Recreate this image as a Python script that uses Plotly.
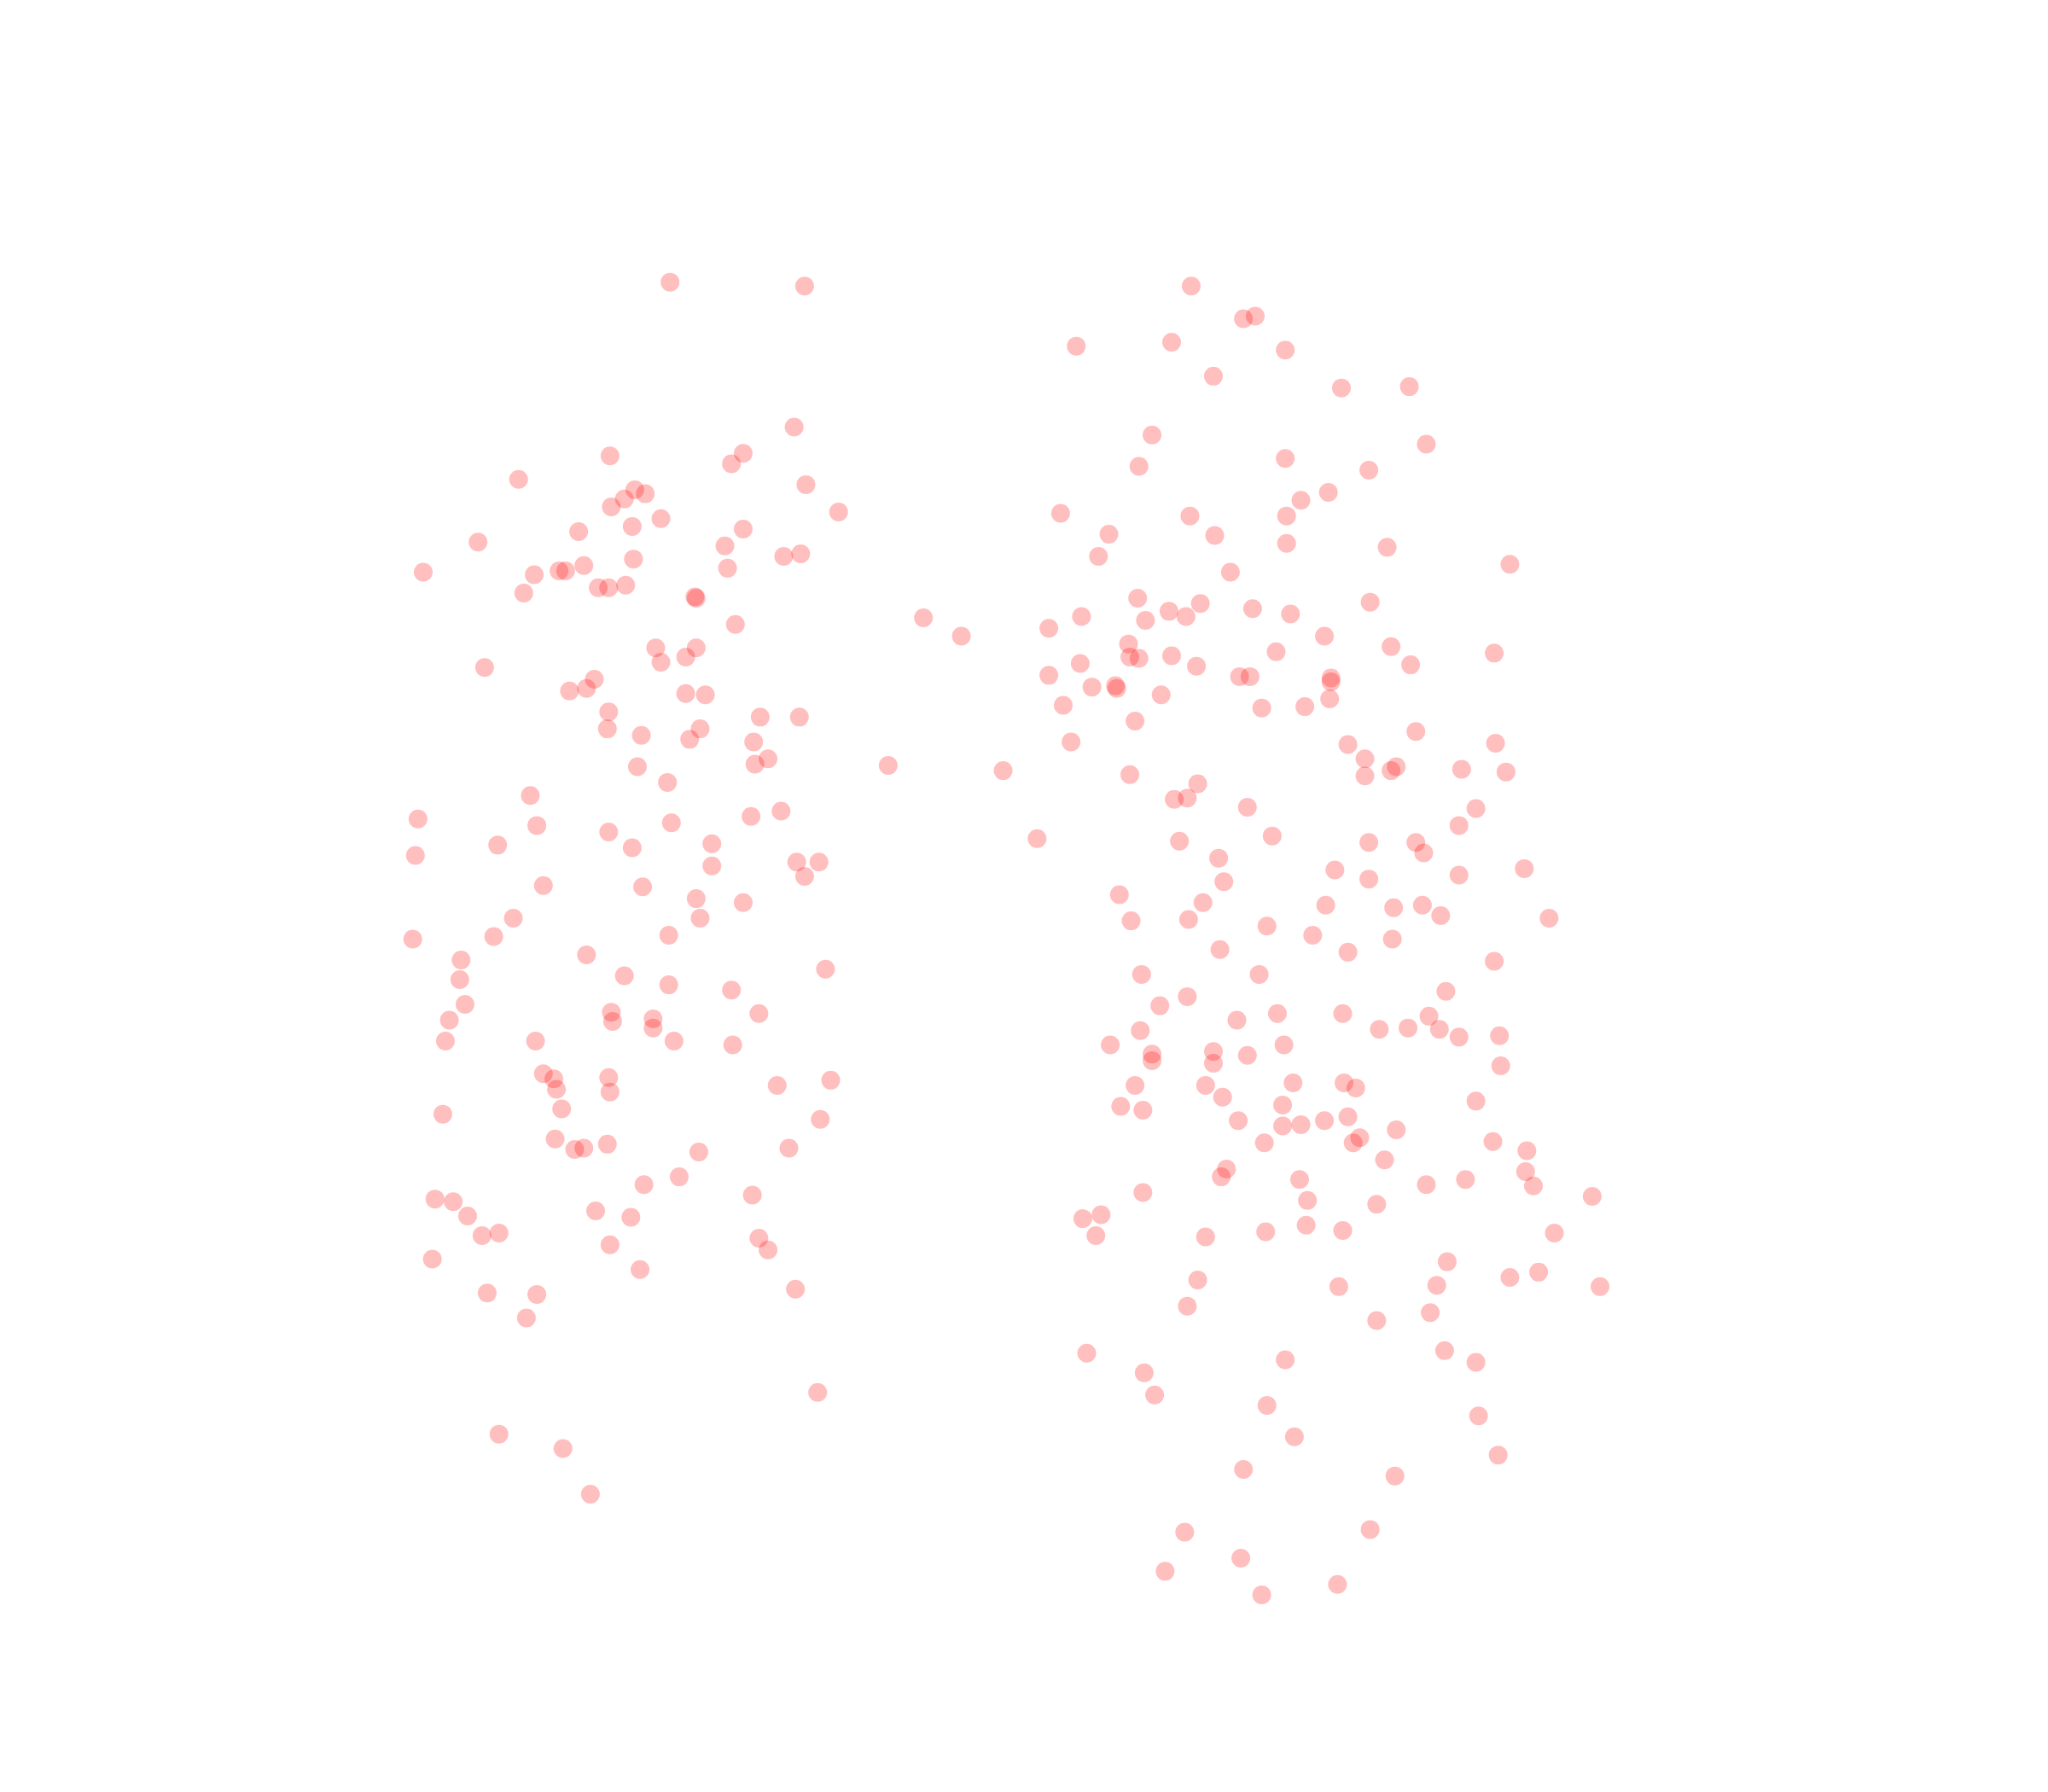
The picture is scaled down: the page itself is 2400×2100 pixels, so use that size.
import plotly.graph_objects as go

left = [(513,216),(616,219),(608,327),(569,347),(560,355),(467,349),(397,367),(486,375),(494,378),(478,382),(468,388),(617,371),(642,392),(506,397),(484,403),(443,407),(569,405),(366,415),(555,418),(613,424),(600,426),(485,428),(324,438),(447,433),(433,437),(428,437),(409,440),(557,435),(401,454),(458,450),(466,450),(479,448),(532,457),(533,458),(563,478),(502,496),(533,496),(525,503),(506,507),(371,511),(455,520),(449,527),(436,529),(525,531),(540,532),(466,545),(465,558),(536,558),(582,549),(612,549),(491,563),(528,566),(577,568),(588,581),(578,585),(488,587),(511,599),(680,586),(707,473),(736,487),(406,609),(320,627),(411,632),(514,630),(575,625),(598,621),(466,637),(381,647),(484,649),(545,646),(318,655),(545,663),(610,660),(627,660),(616,671),(416,678),(492,679),(533,688),(569,691),(393,703),(536,703),(316,719),(378,717),(512,716),(449,731),(353,735),(352,750),(478,747),(512,754),(632,742),(560,758),(356,769),(344,781),(468,775),(469,782),(500,780),(500,787),(581,776),(341,797),(410,797),(516,797),(561,800),(416,822),(424,826),(426,834),(466,825),(467,836),(595,831),(636,827),(430,849),(339,853),(628,857),(425,872),(440,880),(447,879),(465,876),(535,882),(604,879),(520,901),(493,907),(333,918),(347,920),(358,931),(456,927),(483,932),(576,915),(369,946),(382,944),(467,953),(581,948),(588,957),(331,964),(490,972),(373,990),(411,991),(609,987),(403,1009),(626,1066),(382,1098),(431,1109),(452,1144)]

right = [(912,219),(952,244),(961,242),(824,265),(897,262),(984,268),(929,288),(1027,297),(1079,296),(882,333),(1092,340),(872,357),(984,351),(1048,360),(1017,377),(996,383),(812,393),(911,395),(985,395),(849,409),(930,410),(985,416),(1062,419),(841,426),(942,438),(1156,432),(871,458),(919,462),(959,466),(895,468),(908,472),(877,475),(828,472),(803,481),(988,470),(1049,461),(1014,487),(864,493),(1065,495),(977,499),(865,503),(872,504),(897,502),(1144,500),(827,508),(916,510),(1080,509),(803,517),(949,518),(957,518),(1019,519),(1019,522),(836,526),(854,525),(855,527),(889,532),(1018,535),(814,540),(966,542),(999,541),(869,552),(1084,560),(820,568),(1032,570),(1145,569),(1045,581),(1069,587),(1065,590),(1045,594),(1119,589),(1153,591),(865,593),(768,590),(917,600),(899,612),(909,611),(955,618),(1130,619),(1117,632),(794,642),(903,644),(974,640),(1048,645),(1084,645),(1090,653),(933,657),(1022,666),(1048,673),(1117,670),(1167,665),(937,675),(857,685),(921,691),(1015,693),(1067,695),(1089,693),(1103,701),(1186,703),(866,705),(910,704),(970,709),(1005,716),(1066,719),(934,727),(1032,729),(1144,736),(874,746),(964,746),(909,763),(1107,759),(888,770),(978,776),(1028,776),(947,781),(1094,778),(873,789),(1056,788),(1078,787),(1102,788),(1117,794),(1148,793),(850,800),(983,800),(929,805),(882,807),(955,808),(882,812),(929,814),(1149,816),(869,831),(923,831),(990,829),(1029,829),(1038,833),(936,840),(1130,843),(858,847),(875,850),(982,846),(948,858),(1014,858),(1032,855),(982,862),(996,861),(1069,865),(1041,871),(1036,875),(968,875),(1143,874),(1169,881),(1060,888),(939,895),(935,901),(1168,897),(995,903),(1092,907),(1122,903),(1174,908),(875,913),(1001,919),(1054,922),(1219,916),(829,933),(843,930),(839,946),(923,947),(969,943),(1000,938),(1028,942),(1190,944),(1108,966),(917,980),(1156,978),(1178,974),(1100,984),(1025,985),(1225,985),(909,1000),(1095,1005),(1054,1011),(832,1036),(1106,1034),(984,1041),(1130,1043),(876,1051),(884,1068),(970,1076),(1132,1084),(991,1100),(1147,1114),(952,1125),(1068,1130),(1049,1171),(907,1173),(950,1193),(892,1203),(1024,1213),(966,1221)]

x_values = [p[0] for p in left + right]
y_values = [p[1] for p in left + right]

fig = go.Figure(go.Scatter(
    x=x_values, y=y_values, mode="markers",
    marker=dict(size=22, color="rgba(255,0,0,0.25)", line=dict(width=0)),
))
fig.update_layout(
    width=2400, height=2100, margin=dict(l=0, r=0, t=0, b=0),
    paper_bgcolor="white", plot_bgcolor="white", showlegend=False,
    xaxis=dict(range=[5.2, 1573.2], visible=False),
    yaxis=dict(range=[1377.2, 5.2], visible=False),
)
fig.write_html("out.html")
